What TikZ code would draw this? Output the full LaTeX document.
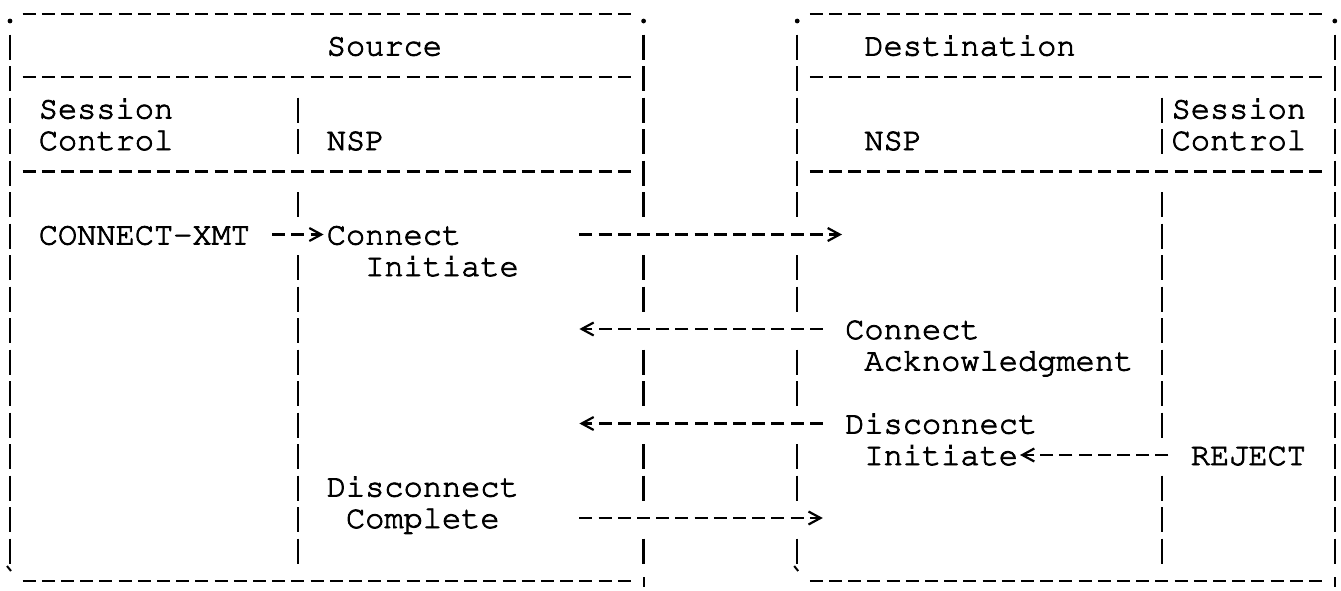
\documentclass[tikz,border=0pt]{standalone}
\usepackage[T1]{fontenc}
\usetikzlibrary{arrows.meta,calc}
\newcommand{\CL}[1]{(0.4+19.2*(#1))}
\newcommand{\CX}[1]{(10+19.2*(#1))}
\newcommand{\RY}[1]{(14+31.5*(#1))}
\newcommand{\BL}[1]{(24+31.5*(#1))}
\newcommand{\hd}[3]{\draw[hdash] ({\CL{#1}+3},{\RY{#3}}) -- ({\CL{#2}+16},{\RY{#3}});}
\newcommand{\heavy}[1]{\special{pdf:literal direct 2 Tr 0.85 w}#1\special{pdf:literal direct 0 Tr}}
\begin{document}
\begin{tikzpicture}[x=1pt,y=-1pt,
  lbl/.style={inner sep=0pt, outer sep=0pt, anchor=base west,
    font=\fontfamily{pcr}\fontsize{32}{38}\selectfont},
  hdash/.style={line width=2.3pt, dash pattern=on 13pt off 6.2pt},
  bar/.style={line width=2.3pt},
  arr/.style={line width=2.2pt, dash pattern=on 13pt off 6.2pt,
    -{Straight Barb[length=12pt,width=13pt]}},
]
\fill[white] (0,0) rectangle (1341,590);
\useasboundingbox (0,0) rectangle (1341,590);

% ---------- box borders ----------
\foreach \r in {0,2,5,18} {\hd{1}{32}{\r} \hd{42}{68}{\r}}
\foreach \c in {0,33,41,69} \fill ({\CX{\c}},21) circle (2.4pt);
\foreach \c in {0,41} \draw[line width=2pt] ({\CX{\c}-3},566) -- ({\CX{\c}+1},571);
\foreach \c in {33,69} \draw[line width=2.2pt] ({\CX{\c}},577) -- ({\CX{\c}},587);

\foreach \r in {1,...,17} \draw[bar] ({\CX{0}},{\RY{\r}-11}) -- ++(0,25);
\foreach \r in {3,4,6,8,9,10,11,12,13,14,15,16,17} \draw[bar] ({\CX{15}},{\RY{\r}-11}) -- ++(0,25);
\foreach \r in {1,2,3,4,5,6,8,9,11,12,14,15,17} {
  \draw[bar] ({\CX{33}},{\RY{\r}-11}) -- ++(0,25);
  \draw[bar] ({\CX{41}},{\RY{\r}-11}) -- ++(0,25);}
\foreach \r in {3,4,6,7,8,9,10,11,12,13,15,16,17} \draw[bar] ({\CX{60}},{\RY{\r}-11}) -- ++(0,25);
\foreach \r in {1,...,17} \draw[bar] ({\CX{69}},{\RY{\r}-11}) -- ++(0,25);

% ---------- texts ----------
\node[lbl] (src)   at ({\CL{17}},{\BL{1}}) {\heavy{Source}};
\node[lbl] (dst)   at ({\CL{45}},{\BL{1}}) {\heavy{Destination}};
\node[lbl] (ssc1)  at ({\CL{2}},{\BL{3}})  {\heavy{Session}};
\node[lbl] (ssc2)  at ({\CL{2}},{\BL{4}})  {\heavy{Control}};
\node[lbl] (snsp)  at ({\CL{17}},{\BL{4}}) {\heavy{NSP}};
\node[lbl] (dnsp)  at ({\CL{45}},{\BL{4}}) {\heavy{NSP}};
\node[lbl] (dsc1)  at ({\CL{61}},{\BL{3}}) {\heavy{Session}};
\node[lbl] (dsc2)  at ({\CL{61}},{\BL{4}}) {\heavy{Control}};
\node[lbl] (cxmt)  at ({\CL{2}},{\BL{7}})  {\heavy{CONNECT-XMT}};
\node[lbl] (ci)    at ({\CL{17}},{\BL{7}}) {\heavy{Connect}};
\node[lbl] (ci2)   at ({\CL{19}},{\BL{8}}) {\heavy{Initiate}};
\node[lbl] (ca)    at ({\CL{44}},{\BL{10}}) {\heavy{Connect}};
\node[lbl] (ca2)   at ({\CL{45}},{\BL{11}}) {\heavy{Acknowledgment}};
\node[lbl] (di)    at ({\CL{44}},{\BL{13}}) {\heavy{Disconnect}};
\node[lbl] (di2)   at ({\CL{45}},{\BL{14}}) {\heavy{Initiate}};
\node[lbl] (rej)   at ({\CL{62}},{\BL{14}}) {\heavy{REJECT}};
\node[lbl] (dc)    at ({\CL{17}},{\BL{15}}) {\heavy{Disconnect}};
\node[lbl] (dc2)   at ({\CL{18}},{\BL{16}}) {\heavy{Complete}};

% ---------- connectors ----------
\coordinate (t1) at ({\CL{43}+16},{\RY{7}});
\coordinate (t2) at ({\CL{30}+3},{\RY{10}});
\coordinate (t3) at ({\CL{30}+3},{\RY{13}});
\coordinate (t4) at ({\CL{42}+16},{\RY{16}});

\draw[arr] ([shift={(22.2pt,10pt)}]cxmt.base east) -- ([shift={(-3.2pt,10pt)}]ci.base west);
\draw[arr] ([shift={(118.2pt,10pt)}]ci.base east) -- (t1);
\draw[arr] ([shift={(-22.4pt,10pt)}]ca.base west) -- (t2);
\draw[arr] ([shift={(-22.4pt,10pt)}]di.base west) -- (t3);
\draw[arr] ([shift={(-22.4pt,10pt)}]rej.base west) -- ([shift={(2pt,10pt)}]di2.base east);
\draw[arr] ([shift={(79.8pt,10pt)}]dc2.base east) -- (t4);
\end{tikzpicture}
\end{document}
